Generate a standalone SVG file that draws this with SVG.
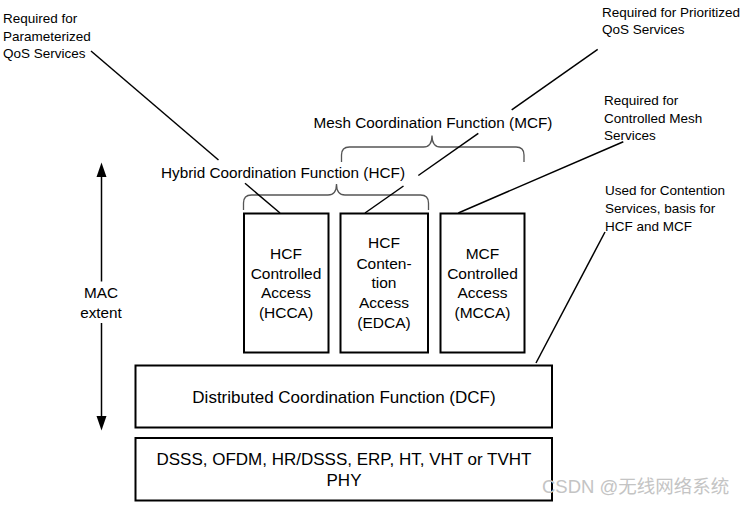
<svg xmlns="http://www.w3.org/2000/svg" width="749" height="507" viewBox="0 0 749 507">
<defs>
<style>
text{font-family:"Liberation Sans",Arial,sans-serif;fill:#000}
.ann{font-size:13.5px}
.lbl{font-size:15.3px;text-anchor:middle}
.box{fill:#fff;stroke:#000;stroke-width:2}
.bt{font-size:15.5px;text-anchor:middle}
.big{font-size:17px;text-anchor:middle}
.ln{stroke:#000;stroke-width:1.5;fill:none}
.brace{stroke:#555;stroke-width:1.3;fill:none}
.head{fill:#000}
</style>
</defs>
<rect width="749" height="507" fill="#fff"/>

<g id="annotations">
<text class="ann" x="3" y="23">Required for</text>
<text class="ann" x="3" y="40.5">Parameterized</text>
<text class="ann" x="3" y="58">QoS Services</text>
<text class="ann" x="602" y="17">Required for Prioritized</text>
<text class="ann" x="602" y="34">QoS Services</text>
<text class="ann" x="604" y="105">Required for</text>
<text class="ann" x="604" y="122.5">Controlled Mesh</text>
<text class="ann" x="604" y="140">Services</text>
<text class="ann" x="605" y="195">Used for Contention</text>
<text class="ann" x="605" y="213">Services, basis for</text>
<text class="ann" x="605" y="231">HCF and MCF</text>
</g>

<g id="braces">
<path class="brace" d="M243.5,210 V203 Q243.5,195 251.5,195 H328 Q336.5,195 336.5,184 Q336.5,195 345,195 H420.5 Q428.5,195 428.5,203 V210"/>
<path class="brace" d="M341.5,162 V155 Q341.5,147 349.5,147 H423.5 Q432,147 432,135.5 Q432,147 440.5,147 H516 Q524,147 524,155 V162"/>
<text class="lbl" x="433" y="128">Mesh Coordination Function (MCF)</text>
<text class="lbl" x="283" y="178">Hybrid Coordination Function (HCF)</text>
</g>

<g id="connectors">
<line class="ln" x1="91" y1="51" x2="218.5" y2="160"/>
<line class="ln" x1="245" y1="183.3" x2="280" y2="213"/>
<line class="ln" x1="597.7" y1="49.3" x2="511.7" y2="109.8"/>
<line class="ln" x1="478.3" y1="133.3" x2="418.3" y2="175.5"/>
<line class="ln" x1="403.5" y1="186" x2="365" y2="213"/>
<line class="ln" x1="623.3" y1="141.7" x2="458.3" y2="213"/>
<line class="ln" x1="605" y1="232" x2="536" y2="363"/>
<line class="ln" x1="101.5" y1="175" x2="101.5" y2="281.5"/>
<line class="ln" x1="101.5" y1="323" x2="101.5" y2="418"/>
<polygon class="head" points="101.5,162.5 96.5,177 106.5,177"/>
<polygon class="head" points="101.5,430.5 96.5,416 106.5,416"/>
</g>

<g id="mac-extent">
<text class="lbl" x="101" y="298">MAC</text>
<text class="lbl" x="101" y="318">extent</text>
</g>

<g id="hcca">
<rect class="box" x="244" y="213.5" width="84.5" height="139"/>
<text class="bt" x="286" y="258.5">HCF</text>
<text class="bt" x="286" y="278.5">Controlled</text>
<text class="bt" x="286" y="298">Access</text>
<text class="bt" x="286" y="318">(HCCA)</text>
</g>

<g id="edca">
<rect class="box" x="340.5" y="213.5" width="87.5" height="139"/>
<text class="bt" x="384" y="248">HCF</text>
<text class="bt" x="384" y="268.5">Conten-</text>
<text class="bt" x="384" y="288">tion</text>
<text class="bt" x="384" y="308">Access</text>
<text class="bt" x="384" y="328">(EDCA)</text>
</g>

<g id="mcca">
<rect class="box" x="440.5" y="213.5" width="84" height="139"/>
<text class="bt" x="482.5" y="258.5">MCF</text>
<text class="bt" x="482.5" y="278.5">Controlled</text>
<text class="bt" x="482.5" y="298">Access</text>
<text class="bt" x="482.5" y="318">(MCCA)</text>
</g>

<g id="dcf">
<rect class="box" x="135.5" y="365.5" width="416.5" height="62"/>
<text class="big" x="344" y="402.5">Distributed Coordination Function (DCF)</text>
</g>

<g id="phy">
<rect class="box" x="135.5" y="438" width="416.5" height="62.5"/>
<text class="big" x="344" y="464.5">DSSS, OFDM, HR/DSSS, ERP, HT, VHT or TVHT</text>
<text class="big" x="344" y="486">PHY</text>
</g>

<text x="542" y="493" style="font-family:'Liberation Sans','Noto Sans CJK SC',sans-serif;font-size:18.5px;fill:#c4c4c4">CSDN @无线网络系统</text>
</svg>
